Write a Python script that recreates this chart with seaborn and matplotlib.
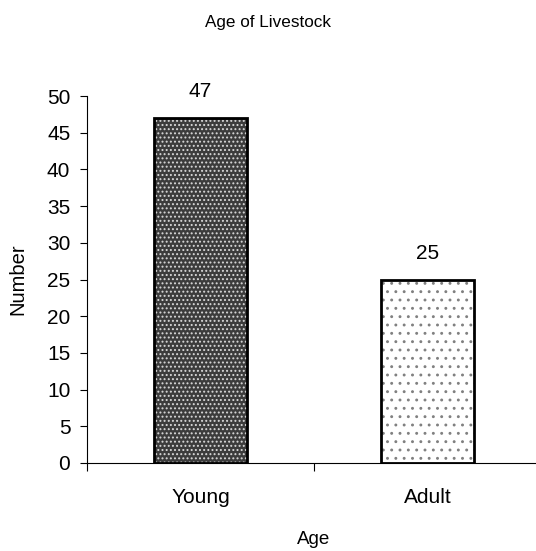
import matplotlib
matplotlib.use("Agg")
import matplotlib.pyplot as plt
import seaborn as sns
import pandas as pd

categories = ["Young", "Adult"]
values = [47, 25]
title = "Age of Livestock"
xlabel = "Age"
ylabel = "Number"

sns.set_style("white")
plt.rcParams['font.family'] = ['Liberation Sans', 'DejaVu Sans']
plt.rcParams['hatch.linewidth'] = 0.9
plt.rcParams['text.color'] = 'black'
plt.rcParams['axes.labelcolor'] = 'black'
plt.rcParams['xtick.color'] = 'black'
plt.rcParams['ytick.color'] = 'black'

df = pd.DataFrame({"cat": categories, "val": values})

fig = plt.figure(figsize=(5.36, 5.51), dpi=100)
ax = fig.add_axes([87/536, 88/551, 454/536, 367/551])

# fill with hatch
sns.barplot(data=df, x="cat", y="val", ax=ax, width=0.41, linewidth=0)
fills = [("#3c3c3c", "#d8d8d8", "...."), ("white", "#808080", "..")]
for p, (fc, hc, h) in zip(ax.patches, fills):
    p.set_facecolor(fc)
    p.set_edgecolor(hc)
    p.set_hatch(h)
    p.set_linewidth(0)

# outlines
sns.barplot(data=df, x="cat", y="val", ax=ax, width=0.41, fill=False,
            edgecolor="black", linewidth=2)
ax.bar_label(ax.containers[1], labels=[str(v) for v in values], padding=12,
             fontsize=15, color="black")

ax.set_ylim(0, 50)
ax.set_xlim(-0.5, 1.5)
ax.set_yticks(range(0, 51, 5))
ax.set_xticks([0, 1])
ax.set_xticklabels(categories)
ax.set_xticks([-0.5, 0.5, 1.5], minor=True)
ax.tick_params(axis="x", which="major", length=0, pad=18, labelsize=15)
ax.tick_params(axis="x", which="minor", length=6, direction="out", width=0.8, bottom=True)
ax.tick_params(axis="y", length=5, direction="out", width=0.8, left=True, labelsize=15, pad=7)
for s in ["top", "right"]:
    ax.spines[s].set_visible(False)
for s in ["left", "bottom"]:
    ax.spines[s].set_color("black")
    ax.spines[s].set_linewidth(0.8)

ax.set_xlabel(xlabel, fontsize=13.5, labelpad=17)
ax.set_ylabel(ylabel, fontsize=14.5, labelpad=14)
fig.text(268/536, 1 - 22/551, title, ha="center", va="center", fontsize=12.3)

fig.savefig("out.png", dpi=100)
